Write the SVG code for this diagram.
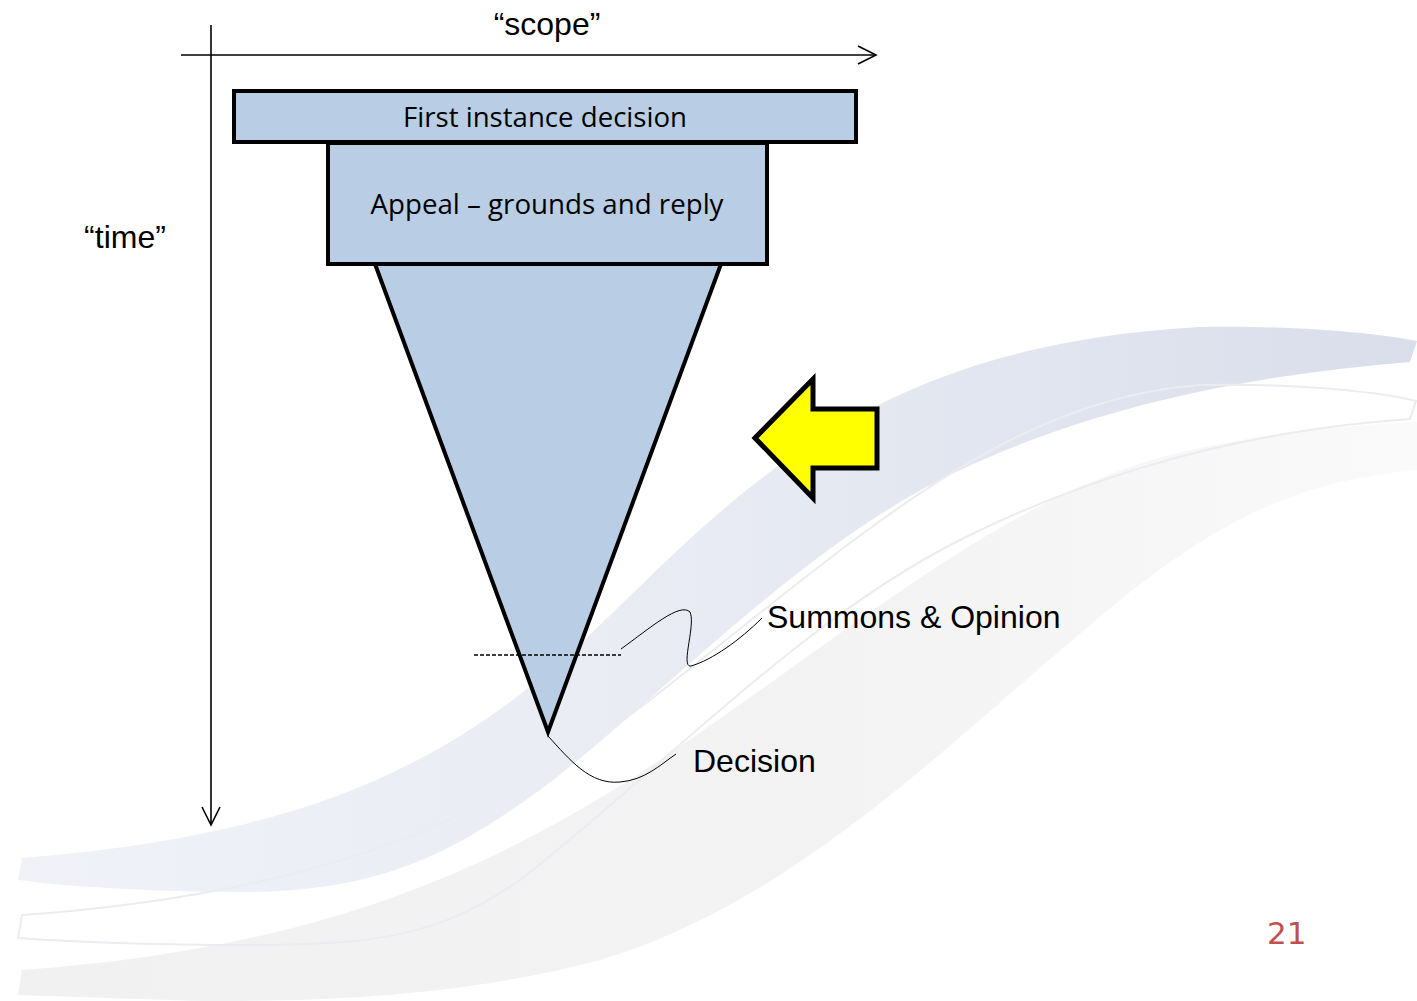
<svg xmlns="http://www.w3.org/2000/svg" width="1417" height="1001" viewBox="0 0 1417 1001">
<style>
.sans{font-family:"Liberation Sans",Arial,sans-serif;fill:#000}
.cal{font-family:"Open Sans","Noto Sans",sans-serif;fill:#000}
.box{fill:#b9cde4;stroke:#000;stroke-width:4}
.axis{stroke:#000;stroke-width:1.6;fill:none}
.call{stroke:#000;stroke-width:1;fill:none}
</style>
<defs>
<linearGradient id="gBlue" x1="0" y1="0" x2="1" y2="0">
<stop offset="0" stop-color="#f0f2f8"/>
<stop offset="0.5" stop-color="#e8ebf3"/>
<stop offset="1" stop-color="#d9deeb"/>
</linearGradient>
<linearGradient id="gGray" x1="0" y1="0" x2="1" y2="0">
<stop offset="0" stop-color="#f1f1f2"/>
<stop offset="0.6" stop-color="#f3f3f4"/>
<stop offset="1" stop-color="#fafafa"/>
</linearGradient>
</defs>
<rect width="1417" height="1001" fill="#fff"/>
<g id="background">
<path d="M22,858 C300,835 450,770 600,625 C740,490 870,345 1200,327 C1300,325 1380,334 1417,341 L1410,362 C1250,375 1100,405 960,470 C800,545 660,700 540,790 C450,855 380,890 250,892 C150,892 60,886 18,880 Z" fill="url(#gBlue)"/>
<path d="M22,970 C300,950 480,880 660,760 C860,625 1000,500 1170,455 C1270,430 1360,425 1417,422 L1417,470 C1300,480 1220,520 1120,600 C950,740 800,900 600,960 C450,1000 300,1001 200,1001 L18,995 Z" fill="url(#gGray)"/>
<path d="M22,915 C300,895 480,830 650,700 C850,545 1000,400 1200,385 C1300,383 1380,392 1416,401 L1410,419 C1250,430 1100,470 960,540 C800,620 650,780 520,880 C440,935 380,945 250,945 C150,945 60,941 18,938 Z" fill="none" stroke="#ececf0" stroke-width="2"/>
</g>
<g id="cone">
<polygon points="375,264 721,264 548,732" fill="#b9cde4" stroke="#000" stroke-width="4" stroke-linejoin="miter" stroke-miterlimit="20"/>
</g>
<g id="first-instance">
<rect class="box" x="234" y="91" width="622" height="51"/>
<text class="cal" x="545" y="127" font-size="27" text-anchor="middle" textLength="284" lengthAdjust="spacingAndGlyphs">First instance decision</text>
</g>
<g id="appeal">
<rect class="box" x="328" y="143" width="439" height="121"/>
<text class="cal" x="547" y="214" font-size="27" text-anchor="middle" textLength="353" lengthAdjust="spacingAndGlyphs">Appeal – grounds and reply</text>
</g>
<g id="connectors">
<line class="axis" x1="181" y1="55" x2="876" y2="55"/>
<polyline class="axis" points="858,46 876,55 858,64"/>
<line class="axis" x1="211" y1="25" x2="211" y2="825"/>
<polyline class="axis" points="202,807 211,825 220,807"/>
<line x1="474" y1="655" x2="621" y2="655" stroke="#000" stroke-width="1.6" stroke-dasharray="4,2"/>
<path class="call" d="M621,649 C650,628 680,602 690,612 C696,625 680,668 691,666 C712,660 740,640 762,618"/>
<path class="call" d="M548,736 C570,760 590,785 620,782 C645,780 660,765 676,754"/>
</g>
<g id="yellow-arrow">
<polygon points="755,438 813,379 813,409 877,409 877,468 813,468 813,498" fill="#ffff00" stroke="#000" stroke-width="5" stroke-linejoin="miter"/>
</g>
<g id="labels">
<text class="sans" x="547" y="35" font-size="32" text-anchor="middle">“scope”</text>
<text class="sans" x="125" y="248" font-size="32" text-anchor="middle">“time”</text>
<text class="sans" x="767" y="628" font-size="32">Summons &amp; Opinion</text>
<text class="sans" x="693" y="772" font-size="32">Decision</text>
<text x="1267" y="944" font-size="31" fill="#c0504d" font-family="'DejaVu Sans',Verdana,sans-serif">21</text>
</g>
</svg>
